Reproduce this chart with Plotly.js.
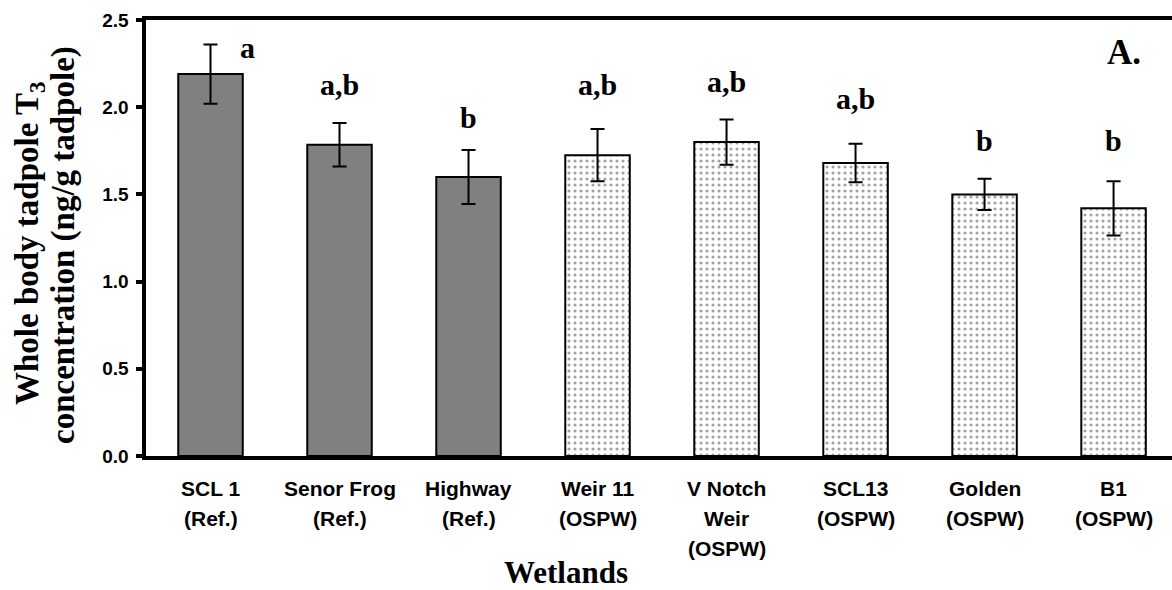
<!DOCTYPE html>
<html>
<head>
<meta charset="utf-8">
<script src="https://cdn.plot.ly/plotly-3.0.1.min.js"></script>
<style>html,body{margin:0;padding:0;background:#fff;}#chart{width:1172px;height:590px;}</style>
</head>
<body>
<div id="chart"></div>
<script>
// ---- data ----
const categories = ["SCL 1", "Senor Frog", "Highway", "Weir 11", "V Notch Weir", "SCL13", "Golden", "B1"];
const tickLines = [
  ["SCL 1", "(Ref.)"],
  ["Senor Frog", "(Ref.)"],
  ["Highway", "(Ref.)"],
  ["Weir 11", "(OSPW)"],
  ["V Notch", "Weir", "(OSPW)"],
  ["SCL13", "(OSPW)"],
  ["Golden", "(OSPW)"],
  ["B1", "(OSPW)"]
];
const groups = ["Ref.", "Ref.", "Ref.", "OSPW", "OSPW", "OSPW", "OSPW", "OSPW"];
const means = [2.19, 1.785, 1.60, 1.725, 1.80, 1.68, 1.50, 1.42];
const sem = [0.17, 0.125, 0.155, 0.15, 0.13, 0.11, 0.09, 0.155];
const sigLetters = ["a", "a,b", "b", "a,b", "a,b", "a,b", "b", "b"];
const sigLetterY = [2.34, 2.13, 1.94, 2.13, 2.15, 2.05, 1.81, 1.81];
const yTicks = [0, 0.5, 1.0, 1.5, 2.0, 2.5];
const yTickText = ["0.0", "0.5", "1.0", "1.5", "2.0", "2.5"];

// ---- styles ----
const sansBold = "'Liberation Sans', Arial, sans-serif";
const serif = "'Liberation Serif', 'Times New Roman', serif";

const trace = {
  type: "bar",
  x: categories,
  y: means,
  width: 0.5,
  marker: {
    color: groups.map(g => g === "Ref." ? "#808080" : "#ffffff"),
    line: {color: "#000", width: 2},
    pattern: {
      shape: groups.map(g => g === "Ref." ? "" : "."),
      fgcolor: "#222222",
      bgcolor: "#ffffff",
      size: 6,
      solidity: 0.22,
      fillmode: "overlay"
    }
  },
  error_y: {type: "data", array: sem, visible: true, color: "#000", thickness: 2, width: 7},
  hoverinfo: "skip"
};

const annotations = [];
// significance letters
sigLetters.forEach((t, i) => {
  annotations.push({
    x: categories[i], y: sigLetterY[i], xref: "x", yref: "y",
    text: "<b>" + t + "</b>", showarrow: false,
    xshift: i === 0 ? 37 : 0,
    font: {family: serif, size: 30, color: "#000"}
  });
});
// multi-line category labels
tickLines.forEach((lines, i) => {
  lines.forEach((ln, j) => {
    annotations.push({
      x: categories[i], y: 0, xref: "x", yref: "paper",
      yanchor: "middle", yshift: -32 - 30 * j,
      text: "<b>" + ln + "</b>", showarrow: false,
      font: {family: sansBold, size: 21, color: "#000"}
    });
  });
});
// panel label
annotations.push({
  x: 1, y: 1, xref: "paper", yref: "paper", xanchor: "right", yanchor: "middle",
  xshift: -29, yshift: -32,
  text: "<b>A.</b>", showarrow: false, font: {family: serif, size: 35, color: "#000"}
});
// x title
annotations.push({
  x: 0.409, y: 0, xref: "paper", yref: "paper", yanchor: "middle", yshift: -116,
  text: "<b>Wetlands</b>", showarrow: false, font: {family: serif, size: 31, color: "#000"}
});
// y title (two lines)
annotations.push({
  x: 0, y: 0.5, xref: "paper", yref: "paper", xanchor: "center", yanchor: "middle",
  xshift: -117, yshift: -5, textangle: -90,
  text: "<b>Whole body tadpole T<sub>3</sub></b>", showarrow: false,
  font: {family: serif, size: 33, color: "#000"}
});
annotations.push({
  x: 0, y: 0.5, xref: "paper", yref: "paper", xanchor: "center", yanchor: "middle",
  xshift: -83, yshift: -7, textangle: -90,
  text: "<b>concentration (ng/g tadpole)</b>", showarrow: false,
  font: {family: serif, size: 33, color: "#000"}
});

const layout = {
  width: 1172, height: 590,
  margin: {l: 146, r: 0, t: 20, b: 134},
  paper_bgcolor: "#fff", plot_bgcolor: "#fff",
  showlegend: false,
  xaxis: {
    type: "category",
    range: [-0.5, 7.453],
    showline: true, linecolor: "#000", linewidth: 4, mirror: true,
    ticks: "", showticklabels: false, showgrid: false, zeroline: false, fixedrange: true
  },
  yaxis: {
    range: [0, 2.5],
    tickvals: yTicks, ticktext: yTickText,
    showline: true, linecolor: "#000", linewidth: 4.5,
    ticks: "outside", ticklen: 6, tickwidth: 4, tickcolor: "#000",
    tickfont: {family: sansBold, size: 19, color: "#000", weight: "bold"},
    ticklabelstandoff: 3,
    showgrid: false, zeroline: false, fixedrange: true
  },
  annotations: annotations
};

Plotly.newPlot("chart", [trace], layout, {staticPlot: true, displayModeBar: false});
</script>
</body>
</html>
